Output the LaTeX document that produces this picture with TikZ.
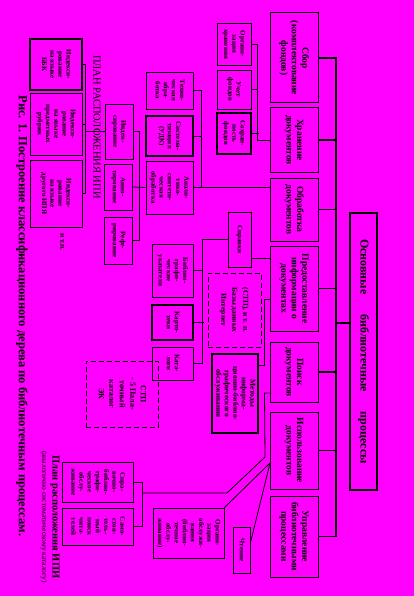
\documentclass[tikz,border=0pt]{standalone}
\usepackage{fontspec}
\setmainfont{Liberation Serif}
\usepackage{graphicx}
\definecolor{bg}{RGB}{255,0,255}
\newcommand{\rt}[1]{\rotatebox{-90}{\begin{tabular}{@{}c@{}}#1\end{tabular}}}
\begin{document}
\begin{tikzpicture}[x=1pt,y=-1pt,
  box/.style={draw, line width=0.8pt, inner sep=0pt, font=\fontsize{7}{8.2}\selectfont\bfseries},
  tbox/.style={box, line width=1.6pt},
  lbox/.style={box, line width=1pt, font=\fontsize{9.5}{10.5}\selectfont\bfseries},
  dbox/.style={box, dash pattern=on 5pt off 3pt, line width=1pt},
  conn/.style={line width=0.8pt},
  tline/.style={line width=1.6pt},
  lab/.style={inner sep=0pt}]
\fill[bg] (0,0) rectangle (414,596);
\useasboundingbox (0,0) rectangle (414,596);

% root
\node[tbox, minimum width=27, minimum height=277, font=\fontsize{12}{14}\selectfont\bfseries] (root) at (363.5,351.5) {\rt{Основные\hspace{20pt}библиотечные\hspace{20pt}процессы}};

% level 1
\node[lbox, minimum width=48, minimum height=90] (sbor) at (294,58) {\rt{Сбор\\(комплектование\\фондов)}};
\node[lbox, minimum width=48, minimum height=64] (hran) at (294,140) {\rt{Хранение\\документов}};
\node[lbox, minimum width=48, minimum height=63] (obrab) at (294,209.5) {\rt{Обработка\\документов}};
\node[lbox, minimum width=48, minimum height=85] (pred) at (294,288.5) {\rt{Предоставление\\информации о\\документах}};
\node[lbox, minimum width=48, minimum height=60] (poisk) at (294,372) {\rt{Поиск\\документов}};
\node[lbox, minimum width=48, minimum height=77] (isp) at (294,450.5) {\rt{Использование\\документов}};
\node[lbox, minimum width=48, minimum height=81] (upr) at (294,536.5) {\rt{Управление\\библиотечными\\процессами}};

\coordinate (tt) at (336,57);
\coordinate (tb) at (336,537);
\draw[tline] (tt) -- (tb);
\draw[tline] (root.west |- 0,323) -- (tt |- 0,323);
\foreach \n in {sbor,hran,obrab,pred,poisk,isp,upr}
  \draw[line width=1.2pt] (\n.east) -- (\n.east -| tt);

% Хранение
\node[box, minimum width=34, minimum height=42] (orgh) at (234,44) {\rt{Органи-\\зация\\хранения}};
\node[box, minimum width=34, minimum height=39] (uchet) at (234,89.5) {\rt{Учет\\фондов}};
\node[tbox, minimum width=34, minimum height=41] (sohr) at (234,133.5) {\rt{Сохран-\\ность\\фондов}};
\draw[conn] (orgh.east) -- ++(6,0) |- (hran.west);
\draw[conn] (uchet.east) -- ++(7,0);
\draw[conn] (sohr.east) -- ++(7,0);

% Обработка
\node[box, minimum width=47, minimum height=37] (tech) at (169.5,90.5) {\rt{Техни-\\ческая\\обра-\\ботка}};
\node[tbox, minimum width=47, minimum height=40] (sist) at (169.5,136) {\rt{Система-\\тизация\\(УДК)}};
\node[box, minimum width=47, minimum height=53] (anal) at (169.5,187.5) {\rt{Анали-\\тико-\\синтети-\\ческая\\обработка}};
\draw[conn] (obrab.west |- anal.east) -- (anal.east);
\draw[conn] (tech.east) -- ++(8,0) |- (anal.east);
\draw[conn] (sist.east) -- ++(8,0);

% Аналитико-синтетическая
\node[box, minimum width=28, minimum height=55] (ind) at (119,131.5) {\rt{Индек-\\сирование}};
\node[box, minimum width=28, minimum height=46] (ann) at (118.5,187) {\rt{Анно-\\тирование}};
\node[box, minimum width=28, minimum height=47] (ref) at (118.5,240.5) {\rt{Рефе-\\рирование}};
\draw[conn] (anal.west) -- (ann.east);
\draw[conn] (ind.east) -- ++(6,0) |- (ref.east);

% Индексирование
\node[tbox, minimum width=52, minimum height=51] (i1) at (56,64.5) {\rt{Индекси-\\рование\\на языке\\ББК}};
\node[box, minimum width=52, minimum height=62] (i2) at (56,124) {\rt{Индекси-\\рование\\на языке\\предметных\\рубрик}};
\node[box, minimum width=52, minimum height=67] (i3) at (56,193.5) {\rt{Индекси-\\рование\\на языке\\другого ИПЯ}};
\draw[conn] (i1.east) -- ++(3,0) |- (i3.east);
\draw[conn] (i2.east) -- ++(3,0);
\draw[conn] (ind.west) -- ++(-20,0);
\node[lab, font=\fontsize{10.5}{12}\selectfont] (plan1) at (97,127) {\rotatebox{-90}{ПЛАН РАСПОЛОЖЕНИЯ ИПИ}};
\node[lab, font=\fontsize{7.5}{8}\selectfont\bfseries] (itp) at (62,242) {\rotatebox{-90}{и т.п.}};

% Предоставление
\node[box, minimum width=23, minimum height=55] (sprav) at (239.5,239.5) {\rt{Справки}};
\node[box, minimum width=41, minimum height=53] (bib) at (172.5,270.5) {\rt{Библио-\\графи-\\ческие\\указатели}};
\node[tbox, minimum width=41, minimum height=35] (kart) at (172.5,322.5) {\rt{Карто-\\теки}};
\node[box, minimum width=41, minimum height=33] (kat) at (172.5,363.5) {\rt{Ката-\\логи}};
\draw[conn] (pred.west |- 0,258) -- (sprav.east |- 0,258);
\draw[conn] (sprav.west) -- ++(-25,0) |- (kat.east);
\draw[conn] (bib.east) -- ++(10,0);
\draw[conn] (kart.east) -- ++(10,0);
\node[dbox, minimum width=53, minimum height=74, font=\fontsize{7.5}{11}\selectfont\bfseries] (ds1) at (234.5,310) {\rt{(СТП), и т. п.\\Базы данных\\Интернет}};
\node[tbox, minimum width=46, minimum height=79, font=\fontsize{7.5}{8.5}\selectfont\bfseries] (met) at (235,393.5) {\rt{Методы\\информа-\\ционно-библио-\\графического\\обслуживания}};
\draw[conn] (pred.west |- 0,299) -- ++(-5,0) |- (met.east |- 0,365);

% Поиск
\node[box, minimum width=71, minimum height=40] (spr) at (97.5,482) {\rt{Спра-\\вочно-\\библио-\\графи-\\ческое\\обслу-\\живание}};
\node[box, minimum width=71, minimum height=37] (sam) at (97.5,526.5) {\rt{Само-\\стоя-\\тель-\\ный\\поиск\\чита-\\телей}};
\coordinate (pj) at (265,457);
\coordinate (pk) at (227,493);
\coordinate (sj) at (142,493);
\draw[conn] (poisk.west |- 0,393) -- ++(-5,0) -- (pj) -- (pk) -- (sj);
\draw[conn] (spr.east) -- ++(9,0) |- (sam.east);
\node[dbox, minimum width=72, minimum height=66, font=\fontsize{8}{10.5}\selectfont\bfseries] (ds2) at (122,394) {\rt{СТП\\- 5 Пала-\\точный\\каталог\\ЭК}};
\node[lab, font=\fontsize{10.5}{12}\selectfont\bfseries] (plan2) at (55,517) {\rotatebox{-90}{План расположения ИПИ}};
\node[lab, font=\fontsize{7.5}{8}\selectfont] (plan3) at (44,517) {\rotatebox{-90}{(аналогично систематическому каталогу)}};

% Использование
\node[box, minimum width=71, minimum height=50] (org) at (188.5,533) {\rt{Органи-\\зация\\обслужи-\\вания\\(библио-\\течное\\обслу-\\живание)}};
\node[box, minimum width=17, minimum height=46] (chten) at (241.5,550) {\rt{Чтение}};
\coordinate (ij) at (270,463);
\draw[conn] (org.north east) -- (ij);
\draw[conn] (chten.east |- 0,543) -- (ij);

% caption
\node[lab, font=\fontsize{12.5}{14}\selectfont\bfseries] (cap) at (22,316) {\rotatebox{-90}{Рис. 1. Построение классификационного дерева по библиотечным процессам.}};
\end{tikzpicture}
\end{document}
